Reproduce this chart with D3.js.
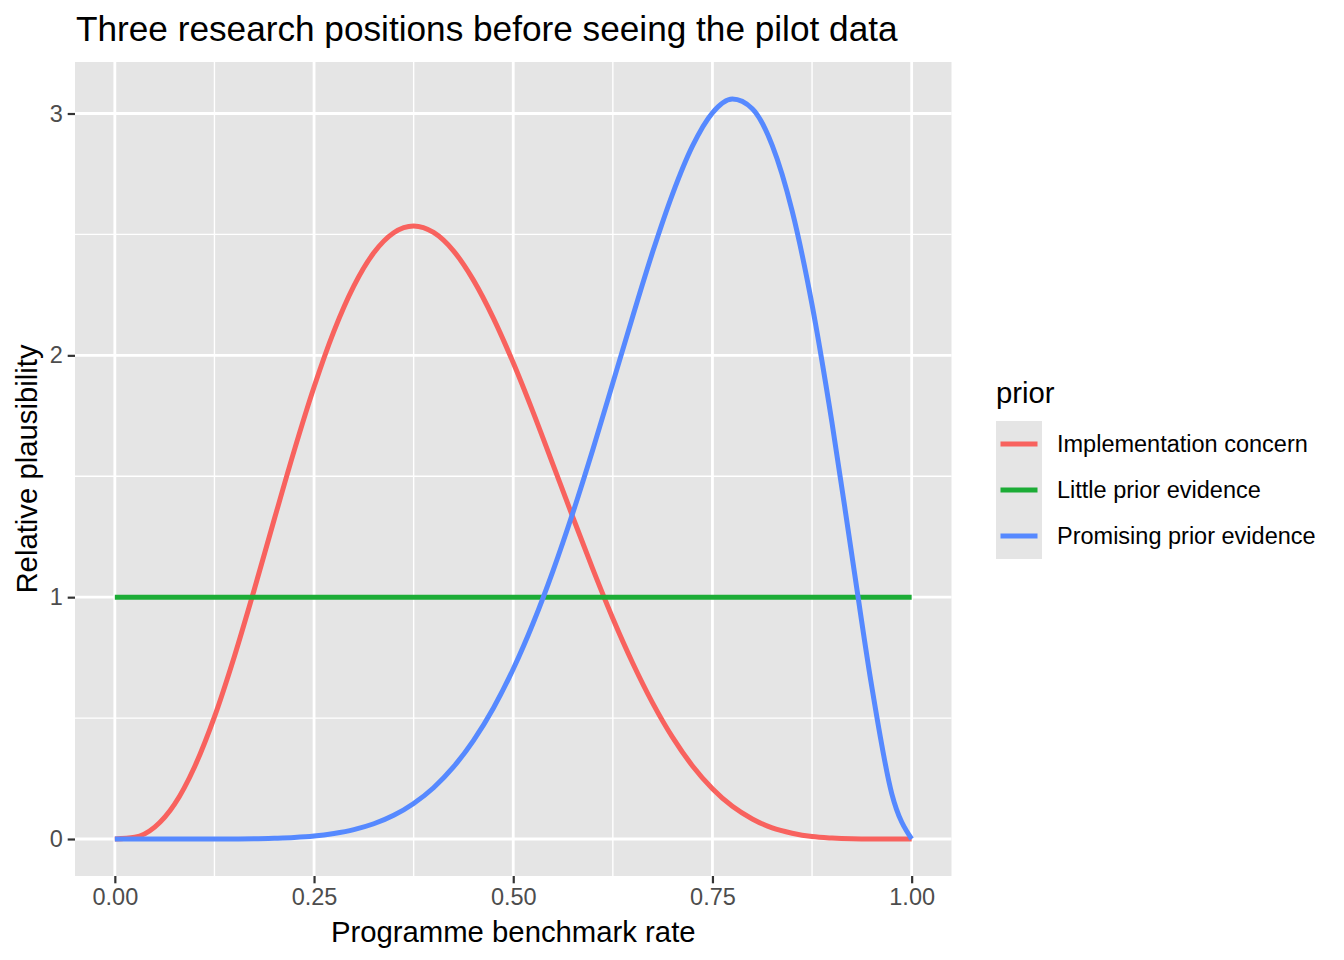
<!DOCTYPE html>
<html>
<head>
<meta charset="utf-8">
<script src="https://cdn.jsdelivr.net/npm/d3@7"></script>
<style>
  body { margin: 0; background: #fff; }
  svg { display: block; font-family: "Liberation Sans", Arial, Helvetica, sans-serif; }
</style>
</head>
<body>
<svg id="chart"></svg>
<script>
// values
const rates = [0, 0.025, 0.05, 0.075, 0.1, 0.125, 0.15, 0.175, 0.2, 0.225, 0.25, 0.275, 0.3, 0.325, 0.35, 0.375, 0.4,
  0.425, 0.45, 0.475, 0.5, 0.525, 0.55, 0.575, 0.6, 0.625, 0.65, 0.675, 0.7, 0.725, 0.75, 0.775, 0.8, 0.825, 0.85,
  0.875, 0.9, 0.925, 0.95, 0.975, 1]
const implementation = [0, 0.007, 0.049, 0.144, 0.298, 0.505, 0.755, 1.032, 1.321, 1.605, 1.869, 2.100, 2.287, 2.424,
  2.507, 2.535, 2.508, 2.432, 2.311, 2.154, 1.969, 1.764, 1.547, 1.329, 1.115, 0.912, 0.727, 0.562, 0.420, 0.302,
  0.208, 0.135, 0.083, 0.046, 0.024, 0.010, 0.004, 0.001, 0.0001, 0, 0]
const little = [1, 1, 1, 1, 1, 1, 1, 1, 1, 1, 1, 1, 1, 1, 1, 1, 1, 1, 1, 1, 1, 1, 1, 1, 1, 1, 1, 1, 1, 1, 1, 1, 1, 1,
  1, 1, 1, 1, 1, 1, 1]
const promising = [0, 0, 0, 0, 0, 0.0001, 0.0004, 0.001, 0.003, 0.006, 0.012, 0.023, 0.039, 0.063, 0.098, 0.147, 0.212,
  0.298, 0.407, 0.541, 0.703, 0.893, 1.110, 1.351, 1.612, 1.886, 2.162, 2.428, 2.668, 2.866, 3.003, 3.060, 3.020,
  2.868, 2.597, 2.209, 1.722, 1.173, 0.629, 0.188, 0]

const priorNames = ['Implementation concern', 'Little prior evidence', 'Promising prior evidence']
const priorColors = ['#F8625E', '#1CAC36', '#5689FF']
const xTicks = [0, 0.25, 0.5, 0.75, 1]
const xMinor = [0.125, 0.375, 0.625, 0.875]
const yTicks = [0, 1, 2, 3]
const yMinor = [0.5, 1.5, 2.5]

const width = 1344
const height = 960
const panel = { left: 75, top: 62, right: 951.5, bottom: 876 }
const panelFill = '#E5E5E5'
const lineWidth = 5

const series = [implementation, little, promising].map((vals, i) => ({
  name: priorNames[i],
  color: priorColors[i],
  points: rates.map((r, j) => ({ x: r, y: vals[j] }))
}))

const x = d3.scaleLinear()
  .domain([-0.05, 1.05])
  .range([panel.left, panel.right])

const yMax = d3.max(promising)
const y = d3.scaleLinear()
  .domain([-0.05 * yMax, 1.05 * yMax])
  .range([panel.bottom, panel.top])

const svg = d3.select('#chart').attr('width', width).attr('height', height)

svg.append('rect')
  .attr('x', panel.left).attr('y', panel.top)
  .attr('width', panel.right - panel.left).attr('height', panel.bottom - panel.top)
  .attr('fill', panelFill)

const grid = svg.append('g').attr('class', 'grid')
grid.selectAll('.xminor').data(xMinor).enter().append('line')
  .attr('x1', d => x(d)).attr('x2', d => x(d))
  .attr('y1', panel.top).attr('y2', panel.bottom)
  .attr('stroke', '#fff').attr('stroke-width', 1.4)
grid.selectAll('.yminor').data(yMinor).enter().append('line')
  .attr('y1', d => y(d)).attr('y2', d => y(d))
  .attr('x1', panel.left).attr('x2', panel.right)
  .attr('stroke', '#fff').attr('stroke-width', 1.4)
grid.selectAll('.xmajor').data(xTicks).enter().append('line')
  .attr('x1', d => x(d)).attr('x2', d => x(d))
  .attr('y1', panel.top).attr('y2', panel.bottom)
  .attr('stroke', '#fff').attr('stroke-width', 2.8)
grid.selectAll('.ymajor').data(yTicks).enter().append('line')
  .attr('y1', d => y(d)).attr('y2', d => y(d))
  .attr('x1', panel.left).attr('x2', panel.right)
  .attr('stroke', '#fff').attr('stroke-width', 2.8)

const line = d3.line()
  .x(d => x(d.x))
  .y(d => y(d.y))
  .curve(d3.curveMonotoneX)

svg.append('g').attr('class', 'lines')
  .selectAll('path')
  .data(series)
  .enter().append('path')
  .attr('d', d => line(d.points))
  .attr('fill', 'none')
  .attr('stroke', d => d.color)
  .attr('stroke-width', lineWidth)
  .attr('stroke-linejoin', 'round')
  .attr('stroke-linecap', 'butt')

// axes
const xAxis = d3.axisBottom(x)
  .tickValues(xTicks)
  .tickFormat(d3.format('.2f'))
  .tickSize(7.3)
  .tickPadding(5)
const yAxis = d3.axisLeft(y)
  .tickValues(yTicks)
  .tickFormat(d3.format('d'))
  .tickSize(7.3)
  .tickPadding(5)

const gx = svg.append('g').attr('transform', `translate(0,${panel.bottom})`).call(xAxis)
const gy = svg.append('g').attr('transform', `translate(${panel.left},0)`).call(yAxis)
;[gx, gy].forEach(g => {
  g.select('.domain').remove()
  g.selectAll('.tick line').attr('stroke', '#333333').attr('stroke-width', 2.2)
  g.selectAll('.tick text')
    .attr('fill', '#4D4D4D')
    .style('font-size', '23.5px')
    .style('font-family', '"Liberation Sans", Arial, Helvetica, sans-serif')
})
gx.selectAll('.tick text').attr('dy', '0.71em')

svg.append('text')
  .attr('x', (panel.left + panel.right) / 2)
  .attr('y', 942)
  .attr('text-anchor', 'middle')
  .style('font-size', '29.3px')
  .text('Programme benchmark rate')

svg.append('text')
  .attr('transform', `translate(37,${(panel.top + panel.bottom) / 2}) rotate(-90)`)
  .attr('text-anchor', 'middle')
  .style('font-size', '29.3px')
  .text('Relative plausibility')

svg.append('text')
  .attr('x', 76)
  .attr('y', 41)
  .style('font-size', '35.2px')
  .text('Three research positions before seeing the pilot data')

// legend
const legend = svg.append('g').attr('transform', 'translate(996,421)')
legend.append('text')
  .attr('x', 0).attr('y', -18)
  .style('font-size', '29.3px')
  .text('prior')

const keySize = 46
const keys = legend.selectAll('.key')
  .data(series)
  .enter().append('g')
  .attr('transform', (d, i) => `translate(0,${i * keySize})`)
keys.append('rect')
  .attr('width', keySize).attr('height', keySize)
  .attr('fill', panelFill)
keys.append('line')
  .attr('x1', 4.5).attr('x2', keySize - 4.5)
  .attr('y1', keySize / 2).attr('y2', keySize / 2)
  .attr('stroke', d => d.color)
  .attr('stroke-width', lineWidth)
keys.append('text')
  .attr('x', 61)
  .attr('y', keySize / 2)
  .attr('dy', '0.35em')
  .style('font-size', '23.5px')
  .text(d => d.name)
</script>
</body>
</html>
